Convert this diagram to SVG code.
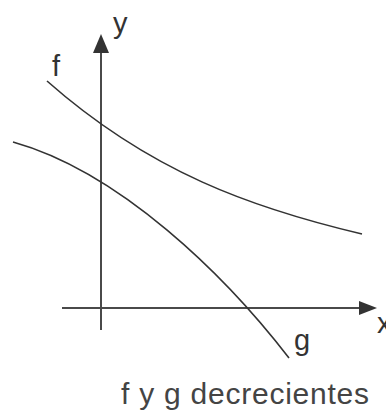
<svg xmlns="http://www.w3.org/2000/svg" width="386" height="413" viewBox="0 0 386 413">
<style>
.axis{stroke:#4a4a4a;stroke-width:2;fill:none}
.curve{stroke:#333;stroke-width:1.6;fill:none}
.head{fill:#333}
.lbl{font-family:"Liberation Sans",Arial,sans-serif;fill:#333;font-size:29px}
.cap{font-family:"Liberation Sans",Arial,sans-serif;fill:#444;font-size:30px}
</style>
<rect width="386" height="413" fill="#fff"/>
<g id="connectors">
<line class="axis" x1="101" y1="330" x2="101" y2="50"/>
<polygon class="head" points="101,34 93,53 109,53"/>
<line class="axis" x1="62" y1="308" x2="362" y2="308"/>
<polygon class="head" points="377,308 359,301 359,315"/>
</g>
<g id="curve-f">
<path class="curve" d="M47,81 C150,172 252,208 362,234"/>
<text class="lbl" x="52" y="76">f</text>
</g>
<g id="curve-g">
<path class="curve" d="M13,142 C120,172 225,275 289,358"/>
<text class="lbl" x="294" y="350">g</text>
</g>
<g id="label-y"><text class="lbl" x="113" y="33">y</text></g>
<g id="label-x"><text class="lbl" x="377" y="333">x</text></g>
<g id="caption"><text class="cap" x="121" y="404" textLength="248" lengthAdjust="spacing">f y g decrecientes</text></g>
</svg>
